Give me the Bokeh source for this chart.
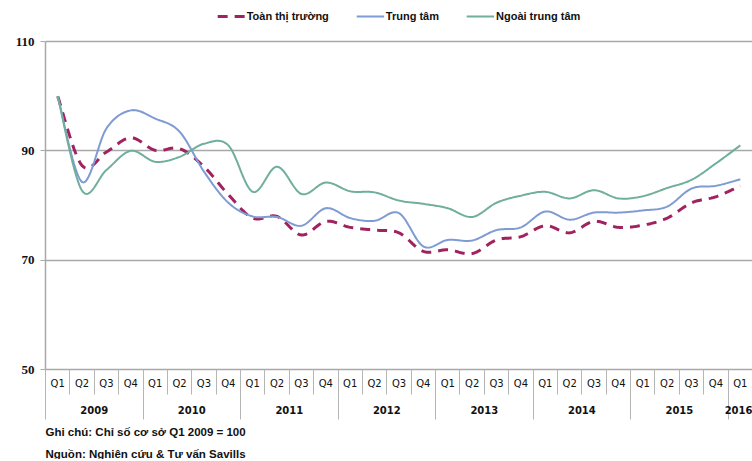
import numpy as np
from bokeh.plotting import figure
from bokeh.models import (Range1d, LinearAxis, FixedTicker, Grid, Legend,
                          LegendItem, Title, ColumnDataSource)
from bokeh.embed import file_html
from bokeh.resources import INLINE

# ---------------- data ----------------
years = ["2009", "2010", "2011", "2012", "2013", "2014", "2015", "2016"]
quarters = ["Q1", "Q2", "Q3", "Q4"] * 7 + ["Q1"]
quarter_year = [y for y in years[:-1] for _ in range(4)] + ["2016"]

toan_thi_truong = [100, 87.3, 89.8, 92.4, 90.1, 90.4, 87.1, 82.0, 77.7, 78.0,
                   74.6, 77.1, 76.0, 75.5, 75.0, 71.6, 71.9, 71.2, 73.7, 74.3,
                   76.3, 75.0, 77.1, 76.0, 76.4, 77.7, 80.5, 81.6, 83.6]
trung_tam = [100, 84.3, 94.1, 97.4, 95.9, 93.5, 86.2, 80.5, 78.0, 77.9,
             76.3, 79.5, 77.7, 77.2, 78.6, 72.5, 73.7, 73.6, 75.5, 76.0,
             78.9, 77.4, 78.7, 78.7, 79.1, 79.8, 83.1, 83.6, 84.8]
ngoai_trung_tam = [100, 82.7, 86.5, 90.0, 88.0, 88.9, 91.3, 91.0, 82.5, 87.1,
                   82.1, 84.2, 82.6, 82.4, 80.9, 80.3, 79.5, 77.9, 80.5, 81.8,
                   82.5, 81.3, 82.8, 81.3, 81.7, 83.2, 84.7, 87.7, 91.0]
y_ticks = [50, 70, 90, 110]

series_names = ["Toàn thị trường", "Trung tâm", "Ngoài trung tâm"]
note_1 = "Ghi chú: Chỉ số cơ sở Q1 2009 = 100"
note_2 = "Nguồn: Nghiên cứu & Tư vấn Savills"

GRID = "#a9a9a9"
SEP = "#b5b5b5"
TEXT = "#111111"


def smooth(xs, ys, n=20):
    """Excel-style smoothed line (Catmull-Rom Bezier) through the data points."""
    xs = np.asarray(xs, float)
    ys = np.asarray(ys, float)
    P = np.column_stack([xs, ys])
    m = len(P)
    out = [P[0]]
    t = np.linspace(0, 1, n + 1)[1:, None]
    for i in range(m - 1):
        p0 = P[i - 1] if i > 0 else P[i]
        p1, p2 = P[i], P[i + 1]
        p3 = P[i + 2] if i + 2 < m else P[i + 1]
        c1 = p1 + (p2 - p0) / 6.0
        c2 = p2 - (p3 - p1) / 6.0
        seg = ((1 - t) ** 3) * p1 + 3 * ((1 - t) ** 2) * t * c1 + \
            3 * (1 - t) * t ** 2 * c2 + t ** 3 * p2
        out.extend(seg)
    out = np.array(out)
    return [float(v) for v in out[:, 0]], [float(v) for v in out[:, 1]]


n = len(quarters)
x_pos = [float(i) + 0.5 for i in range(n)]
y_lo, y_hi = y_ticks[0], y_ticks[-1]
y_top = y_hi + 33 / (328 / (y_hi - y_lo))   # headroom above 110 for the legend

p = figure(frame_width=707, frame_height=361, output_backend="svg",
           toolbar_location=None,
           x_range=Range1d(0, n), y_range=Range1d(y_lo, y_top),
           x_axis_type=None, y_axis_type=None,
           min_border_left=45, min_border_right=0, min_border_top=8,
           min_border_bottom=0)
p.outline_line_color = None
p.background_fill_color = "white"
p.border_fill_color = "white"

# y axis + grid
yaxis = LinearAxis(ticker=FixedTicker(ticks=y_ticks), bounds=(y_lo, y_hi))
yaxis.axis_line_color = GRID
yaxis.axis_line_width = 1.5
yaxis.major_tick_line_color = GRID
yaxis.major_tick_out = 5
yaxis.major_tick_in = 0
yaxis.minor_tick_line_color = None
yaxis.major_label_standoff = 6
yaxis.major_label_text_font = "Liberation Serif"
yaxis.major_label_text_font_style = "bold"
yaxis.major_label_text_font_size = "13px"
yaxis.major_label_text_color = TEXT
p.add_layout(yaxis, "left")
p.add_layout(Grid(dimension=1, ticker=yaxis.ticker, grid_line_color=GRID,
                  grid_line_width=1.5))

# quarter axis
qaxis = LinearAxis(ticker=FixedTicker(ticks=x_pos,
                                      minor_ticks=[float(i) for i in range(n + 1)]))
qaxis.major_label_overrides = {x: q for x, q in zip(x_pos, quarters)}
qaxis.axis_line_color = GRID
qaxis.axis_line_width = 1.5
qaxis.major_tick_line_color = None
qaxis.major_tick_out = 0
qaxis.major_tick_in = 0
qaxis.minor_tick_line_color = SEP
qaxis.minor_tick_out = 25
qaxis.minor_tick_in = 0
qaxis.major_label_standoff = -17
qaxis.major_label_text_font = "DejaVu Sans"
qaxis.major_label_text_font_size = "10px"
qaxis.major_label_text_color = TEXT
p.add_layout(qaxis, "below")

# year axis
year_centers = []
year_bounds = []
for y in years:
    idx = [i for i, yy in enumerate(quarter_year) if yy == y]
    year_centers.append(float(np.mean(idx)) + 0.5)
    year_bounds.append(float(idx[0]))
year_bounds.append(float(n))
yearaxis = LinearAxis(ticker=FixedTicker(ticks=year_centers,
                                         minor_ticks=year_bounds))
yearaxis.major_label_overrides = {c: y for c, y in zip(year_centers, years)}
yearaxis.axis_line_color = None
yearaxis.major_tick_line_color = None
yearaxis.major_tick_out = 0
yearaxis.major_tick_in = 0
yearaxis.minor_tick_line_color = SEP
yearaxis.minor_tick_out = 28
yearaxis.minor_tick_in = 4
yearaxis.major_label_standoff = -14
yearaxis.major_label_text_font = "DejaVu Sans"
yearaxis.major_label_text_font_style = "bold"
yearaxis.major_label_text_font_size = "10px"
yearaxis.major_label_text_color = TEXT
p.add_layout(yearaxis, "below")

# lines
colors = ["#a0225e", "#7f9bd3", "#70ae9d"]
widths = [3, 2, 2]
dashes = ["10 7", "solid", "solid"]
renderers = []
for vals, c, w, d in zip([toan_thi_truong, trung_tam, ngoai_trung_tam],
                         colors, widths, dashes):
    sx, sy = smooth(x_pos, vals)
    src = ColumnDataSource(dict(x=sx, y=sy))
    r = p.line("x", "y", source=src, line_color=c, line_width=w, line_dash=d)
    renderers.append(r)

legend = Legend(items=[LegendItem(label=nm, renderers=[r])
                       for nm, r in zip(series_names, renderers)],
                orientation="horizontal", location="top_center",
                margin=0, padding=0, spacing=27, glyph_width=28,
                glyph_height=16, label_height=16, label_standoff=2,
                label_text_font="Liberation Sans", label_text_font_style="bold",
                label_text_font_size="11px", label_text_color=TEXT,
                border_line_color=None, background_fill_alpha=0)
p.add_layout(legend)

t1 = Title(text=note_1, align="left", text_font="Liberation Sans",
           text_font_style="bold", text_font_size="11.5px", text_color=TEXT,
           standoff=15)
t2 = Title(text=note_2, align="left", text_font="Liberation Sans",
           text_font_style="bold", text_font_size="11.5px", text_color=TEXT,
           standoff=0)
p.add_layout(t1, "below")
p.add_layout(t2, "below")

open("out.html", "w").write(file_html(p, INLINE))
